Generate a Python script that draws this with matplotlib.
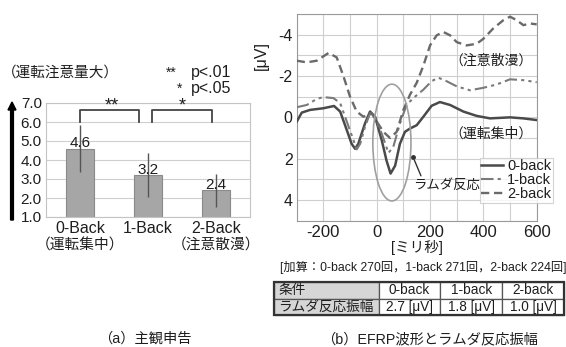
import numpy as np
import matplotlib
matplotlib.use('Agg')
import matplotlib.pyplot as plt
from matplotlib.patches import Ellipse, FancyArrow

plt.rcParams['font.family'] = ['Liberation Sans', 'Noto Sans CJK JP', 'DejaVu Sans']
plt.rcParams['axes.unicode_minus'] = False

# DATA - SUBJECTIVE REPORT (LEFT)
conditions = ['0-Back', '1-Back', '2-Back']
condition_notes = ['（運転集中）', '', '（注意散漫）']
scores = [4.6, 3.2, 2.4]
score_err = [1.25, 1.15, 0.85]

# DATA - EFRP WAVEFORMS (RIGHT)
t0 = [-300, -281, -250, -200, -160, -137, -112, -94, -81, -69, -44, -25, -6, 19, 37, 52, 69, 87,
      106, 125, 150, 175, 206, 237, 275, 325, 375, 425, 500, 550, 600]
v0 = [0.21, -0.23, -0.36, -0.44, -0.55, -0.28, 0.62, 1.28, 1.52, 1.28, 0.3, -0.28, -0.03, 1.11, 2.1,
      2.72, 2.34, 1.28, 0.7, 0.54, 0.38, -0.03, -0.56, -0.74, -0.6, -0.28, -0.07, 0.05, 0.0, 0.05, 0.13]
t1 = [-300, -262, -225, -200, -162, -137, -112, -87, -75, -62, -44, -25, -6, 19, 44, 62, 87, 112,
      137, 175, 206, 231, 262, 300, 350, 400, 450, 500, 550, 600]
v1 = [-0.49, -0.6, -0.89, -0.98, -0.93, -0.69, 0.21, 1.11, 1.55, 1.28, 0.46, -0.2, 0.05, 0.79, 1.72,
      1.44, 0.3, -0.6, -0.93, -1.34, -1.75, -1.92, -1.75, -1.5, -1.31, -1.43, -1.59, -1.84, -1.8, -1.7]
t2 = [-300, -262, -225, -200, -180, -150, -125, -100, -75, -50, -30, -20, 0, 25, 50, 75, 100, 125,
      150, 175, 200, 225, 250, 275, 300, 337, 375, 400, 437, 475, 500, 525, 550, 575, 600]
v2 = [-2.74, -2.66, -2.74, -2.95, -3.12, -2.9, -2.0, -1.0, -0.28, -0.03, -0.12, -0.22, 0.2, 0.7, 1.0,
      0.7, -0.36, -1.1, -1.67, -2.5, -3.48, -3.97, -4.13, -3.97, -3.64, -3.48, -3.56, -3.8, -4.3,
      -4.7, -4.87, -4.7, -4.46, -4.54, -4.5]
series_labels = ['0-back', '1-back', '2-back']

# TABLE
table_header = ['条件', '0-back', '1-back', '2-back']
table_row = ['ラムダ反応振幅', '2.7 [μV]', '1.8 [μV]', '1.0 [μV]']

W, H = 566, 347
fig = plt.figure(figsize=(W / 100, H / 100), dpi=100)

def box(x0, y0, x1, y1):
    # pixel box (top-left origin) -> figure fraction
    return [x0 / W, 1 - y1 / H, (x1 - x0) / W, (y1 - y0) / H]

txt = '#1e1e1e'

# LEFT: BAR CHART
ax = fig.add_axes(box(46, 103, 250, 217))
x = np.arange(len(scores))
ax.bar(x, scores, width=0.41, color='#a6a6a6', edgecolor='#8a8a8a', linewidth=0.8, zorder=2)
ax.errorbar(x, scores, yerr=score_err, fmt='none', ecolor='#555555', elinewidth=1.0, capsize=0, zorder=3)
for xi, s in zip(x, scores):
    ax.text(xi, s - 0.08, '%.1f' % s, ha='center', va='bottom', fontsize=11, color=txt, zorder=4)
ax.set_xlim(-0.5, 2.5)
ax.set_ylim(1.0, 7.0)
ax.set_yticks(np.arange(1.0, 7.01, 1.0))
ax.set_yticklabels(['%.1f' % v for v in np.arange(1.0, 7.01, 1.0)], fontsize=11, color=txt)
ax.set_xticks(x)
ax.set_xticklabels(conditions, fontsize=11.5, color=txt)
ax.tick_params(length=0, pad=3)
for xi, note in zip(x, condition_notes):
    ax.text(xi, -0.25, note, transform=ax.get_xaxis_transform(), ha='center', va='center',
            fontsize=10.6, color=txt)
ax.grid(axis='y', color='#cfcfcf', linewidth=0.8, zorder=0)
for sp in ax.spines.values():
    sp.set_color('#c4c4c4')
    sp.set_linewidth(0.8)

# significance brackets
ax.plot([0.0, 0.0, 0.87, 0.87], [6.0, 6.63, 6.63, 6.0], color='#444444', lw=1.3, clip_on=False, zorder=4)
ax.plot([1.06, 1.06, 1.94, 1.94], [6.0, 6.63, 6.63, 6.0], color='#444444', lw=1.3, clip_on=False, zorder=4)
ax.text(0.47, 6.4, '**', ha='center', va='bottom', fontsize=13, color=txt)
ax.text(1.5, 6.4, '*', ha='center', va='bottom', fontsize=13, color=txt)

fig.text(2 / W, 1 - 73 / H, '（運転注意量大）', fontsize=10.5, color=txt, va='center')
fig.text(166 / W, 1 - 73 / H, '**', fontsize=10, color=txt, va='center')
fig.text(191 / W, 1 - 73 / H, 'p<.01', fontsize=11.5, color=txt, va='center')
fig.text(177 / W, 1 - 89 / H, '*', fontsize=10, color=txt, va='center')
fig.text(191 / W, 1 - 89 / H, 'p<.05', fontsize=11.5, color=txt, va='center')
fig.add_artist(FancyArrow(12 / W, 1 - 220 / H, 0, (220 - 102) / H,
                          width=2.8 / W, head_width=8 / W, head_length=8 / H,
                          length_includes_head=True, color='black',
                          transform=fig.transFigure))
fig.text(145 / W, 1 - 339 / H, '（a）主観申告', fontsize=10.3, color=txt, ha='center', va='center')

# RIGHT: EFRP WAVEFORMS
ax2 = fig.add_axes(box(296.7, 14, 536.7, 220.7))
ax2.plot(t0, v0, color='#4a4a4a', lw=1.8, label=series_labels[0], zorder=3)
ax2.plot(t1, v1, color='#7a7a7a', lw=1.5, linestyle=(0, (6, 2, 1.5, 2, 1.5, 2)), label=series_labels[1], zorder=3)
ax2.plot(t2, v2, color='#6a6a6a', lw=1.7, linestyle=(0, (3.5, 2)), label=series_labels[2], zorder=3)
ax2.set_xlim(-300, 600)
ax2.set_ylim(5, -5)
ax2.set_xticks([-200, 0, 200, 400, 600])
ax2.set_xticks(np.arange(-300, 601, 100), minor=True)
ax2.set_yticks([-4, -2, 0, 2, 4])
ax2.set_yticks(np.arange(-5, 6, 1), minor=True)
ax2.grid(which='both', color='#cfcfcf', linewidth=0.8, zorder=0)
ax2.tick_params(which='both', length=0, labelcolor=txt)
ax2.tick_params(axis='x', labelsize=12, pad=3)
ax2.tick_params(axis='y', labelsize=11.5, pad=3)
for sp in ax2.spines.values():
    sp.set_color('#9a9a9a')
    sp.set_linewidth(0.8)
ax2.set_xlabel('[ミリ秒]', fontsize=10.5, color=txt, labelpad=0)
ax2.set_ylabel('[μV]', fontsize=11.5, color=txt)
ax2.yaxis.set_label_coords(-0.115, 0.8)

ax2.add_patch(Ellipse((57, 1.22), 143, 5.65, fill=False, edgecolor='#a0a0a0', lw=1.2, zorder=4))
ax2.annotate('', xy=(137, 1.94), xytext=(170, 2.95),
             arrowprops=dict(arrowstyle='-', color='#333333', lw=1.0))
ax2.plot([137], [1.94], 'o', color='#333333', markersize=2.5, zorder=5)
ax2.text(262, 3.3, 'ラムダ反応', fontsize=9.6, color=txt, ha='center', va='center', zorder=5)
ax2.text(583, -2.74, '（注意散漫）', fontsize=10, color=txt, ha='right', va='center', zorder=5)
ax2.text(583, 0.8, '（運転集中）', fontsize=10, color=txt, ha='right', va='center', zorder=5)

leg = ax2.legend(loc='upper left', bbox_to_anchor=(0.762, 0.305), fontsize=10.5, frameon=True,
                 fancybox=False, handlelength=1.5, handletextpad=0.3, labelspacing=0.0,
                 borderpad=0.1, borderaxespad=0)
leg.get_frame().set_edgecolor('#c8c8c8')
leg.get_frame().set_linewidth(0.8)
for t in leg.get_texts():
    t.set_color(txt)

fig.text(423 / W, 1 - 268 / H, '[加算：0-back 270回，1-back 271回，2-back 224回]', fontsize=8.8,
         color=txt, ha='center', va='center')

# TABLE
tax = fig.add_axes(box(274, 282, 564, 315))
tax.axis('off')
tbl = tax.table(cellText=[table_header, table_row], bbox=[0, 0, 1, 1],
                colWidths=[104.3, 61.7, 61.7, 61.7], cellLoc='center')
tbl.auto_set_font_size(False)
for (r, c), cell in tbl.get_celld().items():
    cell.set_edgecolor('#555555')
    cell.set_linewidth(0.9)
    cell.get_text().set_fontsize(9.8)
    cell.get_text().set_color(txt)
    if c == 0:
        cell.set_facecolor('#d6d6d6')
        cell.get_text().set_ha('left')
        cell.PAD = 0.04
tax.add_patch(plt.Rectangle((0, 0), 1, 1, fill=False, edgecolor='#333333', lw=1.6,
                            transform=tax.transAxes, clip_on=False))

fig.text(429 / W, 1 - 339 / H, '（b）EFRP波形とラムダ反応振幅', fontsize=10.3, color=txt, ha='center', va='center')

fig.savefig('out.png', dpi=100)
